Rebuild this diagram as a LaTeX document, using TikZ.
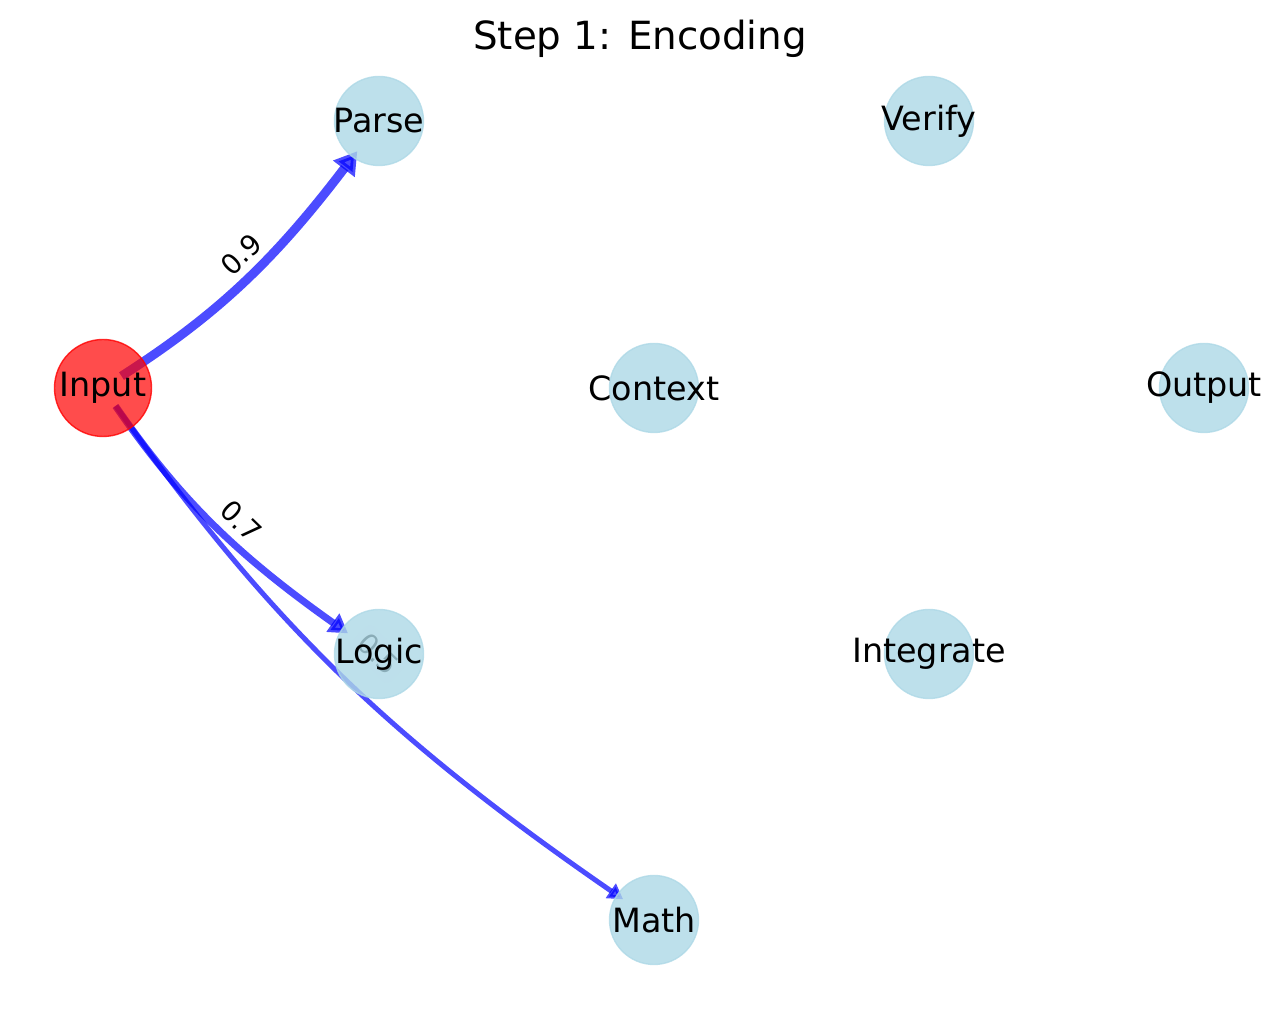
\documentclass[tikz,border=0pt]{standalone}
\usepackage{fontspec}
\setmainfont{DejaVu Sans}
\usetikzlibrary{arrows.meta,calc}

\definecolor{lightblue}{RGB}{173,216,230}
\pgfdeclarelayer{bg}
\pgfsetlayers{bg,main}

\tikzset{
	stagenode/.style={circle, minimum size=44.5pt, inner sep=0pt, fill=lightblue, draw=lightblue, line width=0.7pt, fill opacity=0.8, draw opacity=0.8, text opacity=1, font=\fontsize{16.7}{20}\selectfont, execute at begin node={\hbox to 0pt\bgroup\hss}, execute at end node={\hss\egroup}},
	startnode/.style={stagenode, minimum size=48.5pt, fill=red, draw=red, fill opacity=0.7, draw opacity=0.8},
	flow/.style={blue, opacity=0.7, -{Triangle[length=3pt 1.8,width=3pt 2.2]}, shorten <=11pt, shorten >=-4pt},
	weight/.style={fill=white, rounded corners=3pt, inner sep=3pt, font=\fontsize{13.9}{16}\selectfont}
}

\begin{document}
\begin{tikzpicture}[x=0.5pt, y=0.5pt]
	\useasboundingbox (0,0) rectangle (1280,1010);
	
	\node[font=\fontsize{19.4}{23}\selectfont] (title) at (640,971) {Step 1: Encoding};
	
	% grid of stages
	\node[startnode] (n1) at (103,622) {Input};
	\node[stagenode] (n2) at (379,889) {Parse};
	\node[stagenode] (n3) at (929,889) {Verify};
	\node[stagenode] (n4) at (654,622) {Context};
	\node[stagenode] (n5) at (1204,622) {Output};
	\node[stagenode] (n6) at (379,356) {Logic};
	\node[stagenode] (n7) at (929,356) {Integrate};
	\node[stagenode] (n8) at (654,90) {Math};
	
	\begin{pgfonlayer}{bg}
		\draw[flow, line width=4.5pt] (n1.center) to[bend right=10] (n2);
		\draw[flow, line width=3.5pt] (n1.center) to[bend right=10] (n6);
		\draw[flow, line width=2.5pt] (n1.center) to[bend right=10] (n8);
		
		\node[weight, rotate=44] (w1) at ($(n1)!0.5!(n2)$) {0.9};
		\node[weight, rotate=-44] (w2) at ($(n1)!0.5!(n6)$) {0.7};
		\node[weight, rotate=-44] (w3) at ($(n1)!0.5!(n8)$) {0.5};
	\end{pgfonlayer}
\end{tikzpicture}
\end{document}
